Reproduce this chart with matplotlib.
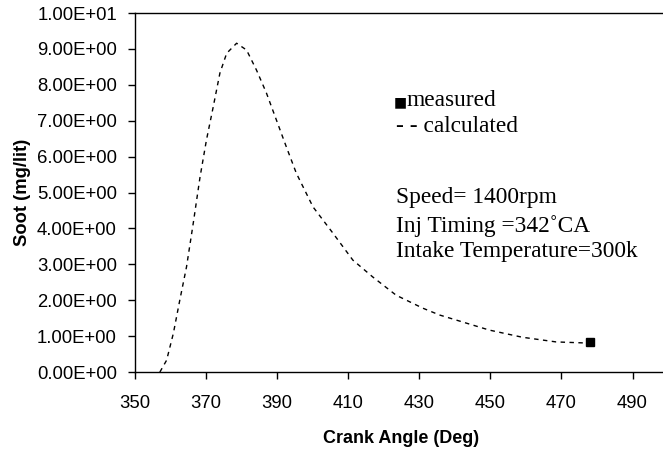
import matplotlib
matplotlib.use('Agg')
import matplotlib.pyplot as plt
from matplotlib.ticker import FuncFormatter

# calculated soot curve (crank angle in deg, soot in mg/lit)
crank_angle = [357.0, 358.9, 360.8, 362.6, 364.5, 366.4, 368.3, 370.1, 372.0,
               373.9, 375.8, 378.6, 381.4, 384.2, 387.0, 389.8, 392.6, 395.4,
               400.1, 405.7, 411.3, 416.9, 423.5, 431.0, 435.7, 449.7, 459.0,
               468.5, 476.9]
soot_calc = [0.0, 0.33, 1.08, 2.0, 2.93, 4.15, 5.43, 6.46, 7.38,
             8.33, 8.88, 9.16, 8.97, 8.41, 7.77, 7.02, 6.27, 5.54,
             4.6, 3.87, 3.12, 2.65, 2.14, 1.78, 1.59, 1.17, 0.97,
             0.84, 0.81]

# measured point
meas_angle = [478.0]
meas_soot = [0.83]

x_ticks = [350, 370, 390, 410, 430, 450, 470, 490]
y_ticks = [0, 1, 2, 3, 4, 5, 6, 7, 8, 9, 10]

fig = plt.figure(figsize=(6.63, 4.51), dpi=100)
ax = fig.add_axes([0.2036, 0.175, 0.804, 0.796])

ax.plot(crank_angle, soot_calc, color='black', linewidth=1.0,
        linestyle=(0, (3.2, 3.2)))
ax.plot(meas_angle, meas_soot, marker='s', color='black', markersize=6,
        linestyle='none')

ax.set_xlim(350, 500)
ax.set_ylim(0, 10)
ax.set_xticks(x_ticks)
ax.set_yticks(y_ticks)
ax.yaxis.set_major_formatter(FuncFormatter(lambda v, p: '%.2E' % v))

for lab in ax.get_xticklabels() + ax.get_yticklabels():
    lab.set_fontfamily('Liberation Sans')
    lab.set_fontsize(13.3)
ax.tick_params(direction='out', length=5, width=1, colors='black')
ax.tick_params(axis='y', pad=8)
ax.tick_params(axis='x', pad=11.5)

ax.spines['right'].set_visible(False)
for s in ['left', 'top', 'bottom']:
    ax.spines[s].set_linewidth(1.0)

ax.set_xlabel('Crank Angle (Deg)', fontfamily='Liberation Sans',
              fontweight='bold', fontsize=13, labelpad=13)
ax.set_ylabel('Soot (mg/lit)', fontfamily='Liberation Sans',
              fontweight='bold', fontsize=13.2, labelpad=4)

serif = dict(fontfamily='Liberation Serif', fontsize=16.8, color='black',
             va='center', ha='left')
fig.text(394 / 663, 1 - 102 / 451, '\u25a0', fontfamily='DejaVu Sans',
         fontsize=10, va='center', ha='left')
fig.text(406 / 663, 1 - 100 / 451, 'measured', **serif)
fig.text(396 / 663, 1 - 127 / 451, '- - calculated', **serif)
fig.text(396 / 663, 1 - 198 / 451, 'Speed= 1400rpm', **serif)
fig.text(396 / 663, 1 - 226 / 451, 'Inj Timing =342\u02daCA', **serif)
fig.text(396 / 663, 1 - 252 / 451, 'Intake Temperature=300k', **serif)

fig.savefig('out.png', dpi=100)
